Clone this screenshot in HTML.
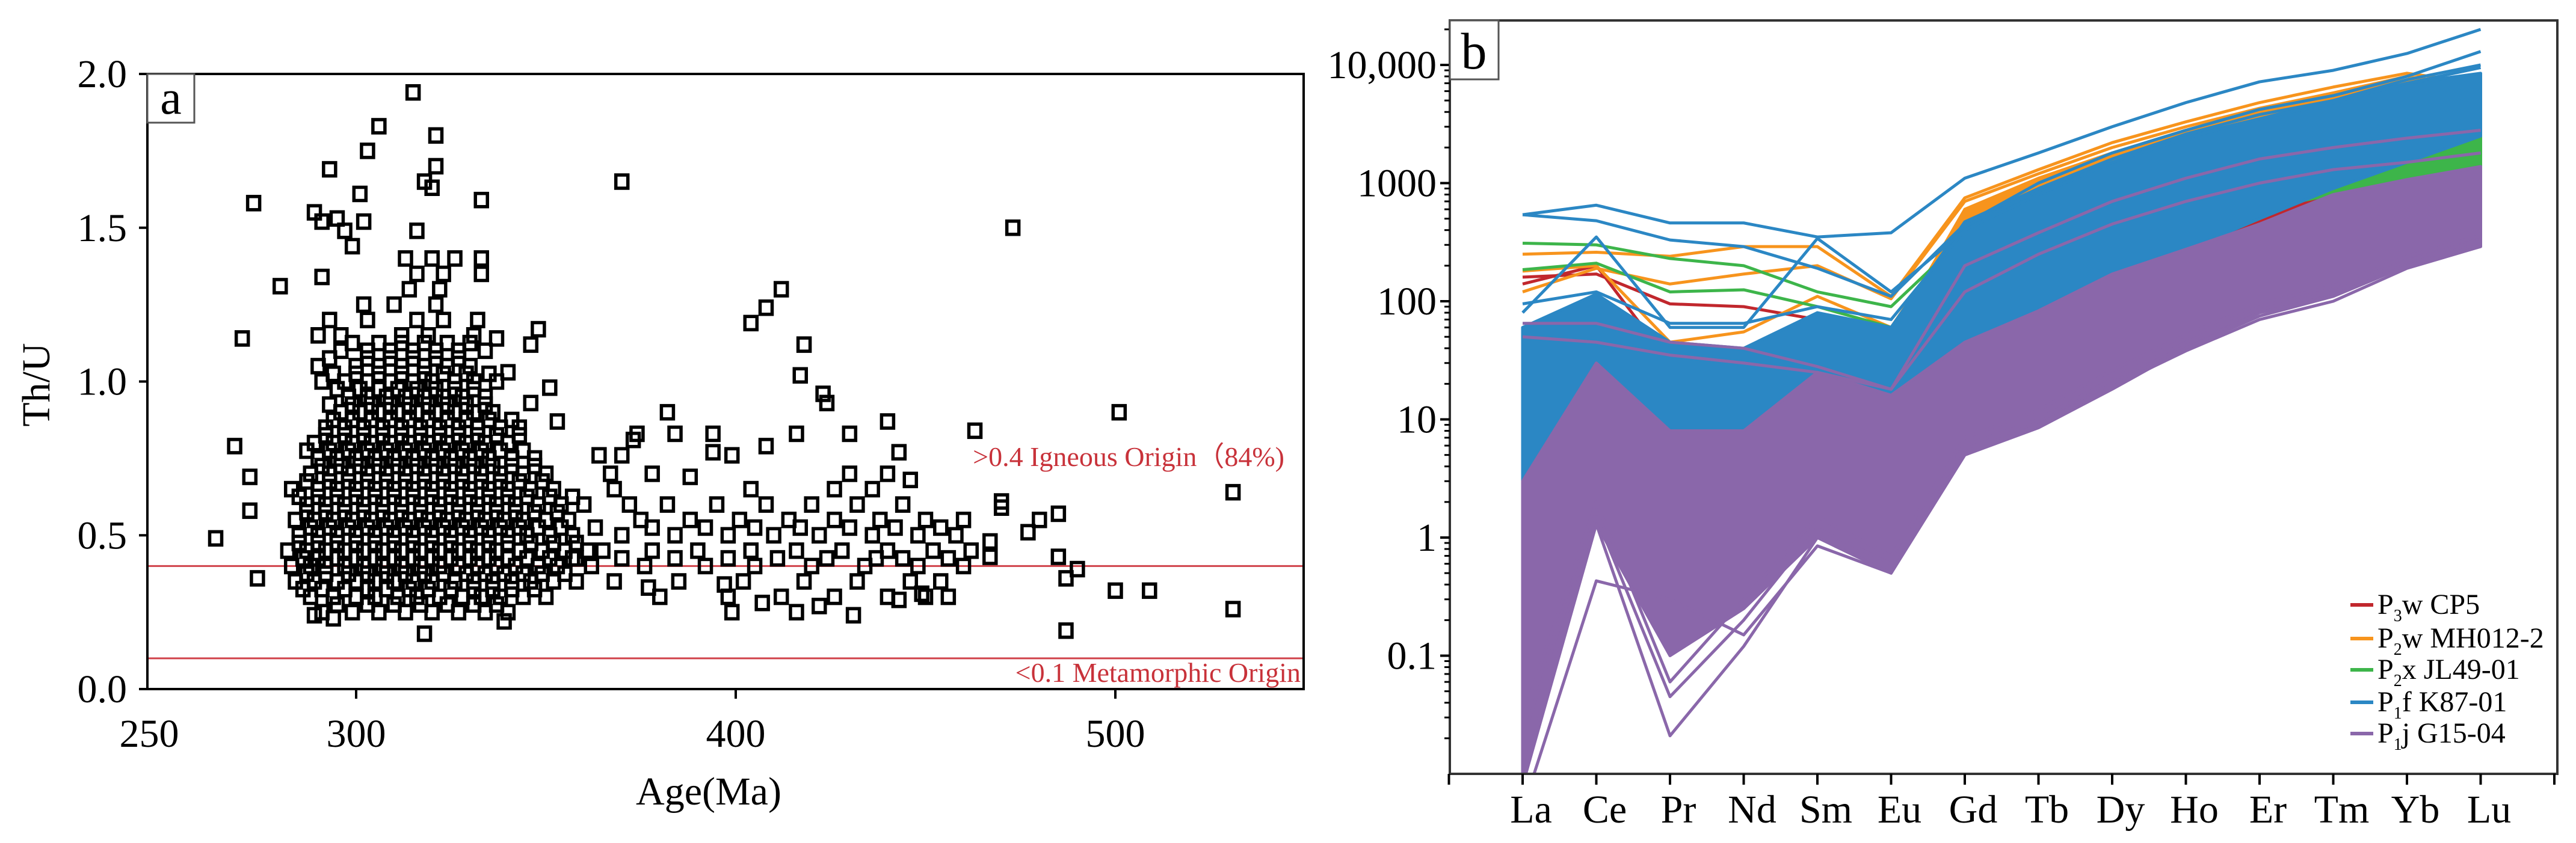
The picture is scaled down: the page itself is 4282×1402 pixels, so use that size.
<!DOCTYPE html>
<html><head><meta charset="utf-8">
<style>
html,body{margin:0;padding:0;background:#fff;}
svg{display:block;font-family:"Liberation Serif",serif;}
</style></head>
<body>
<svg id="fig" width="4282" height="1402" viewBox="0 0 4282 1402" xmlns="http://www.w3.org/2000/svg">
<g id="pa"></g>
<g id="pb"></g>
</svg>
<script>
// ---------- Panel A data ----------
const outlierAges = [315,306,321,303,293,321,318,320,370,301,273,333,289,291,295,302,297,299,316,473,280,291,270,412,408,404,418,417,423,424,268,272,272,263,274,501,463,440,531,531,487,485,485,490,487,500,509,480,477,470,470,467,467,382,384,374,373,394,394,399,408,416,351,346,348,346,340,337,332,353,364,370,388,430,443,446,377,397,399,407,416,431,422,443,449,318,339,289,294];
const outlierRatios = [1.94,1.83,1.80,1.75,1.69,1.70,1.65,1.63,1.65,1.61,1.58,1.59,1.55,1.52,1.53,1.52,1.49,1.44,1.49,1.50,1.31,1.34,1.14,1.30,1.24,1.19,1.12,1.02,0.96,0.93,0.79,0.69,0.58,0.49,0.36,0.90,0.84,0.87,0.64,0.26,0.19,0.57,0.43,0.39,0.36,0.32,0.32,0.55,0.51,0.61,0.59,0.48,0.43,0.90,0.83,0.83,0.81,0.83,0.77,0.76,0.79,0.83,0.98,0.93,1.17,1.12,1.03,1.14,1.20,0.87,0.76,0.76,0.69,0.83,0.77,0.68,0.33,0.34,0.25,0.28,0.25,0.24,0.27,0.29,0.31,0.18,0.22,0.24,0.23];
const rowRatios = [0.25,0.30,0.35,0.40,0.45,0.50,0.55,0.60,0.65,0.70,0.75,0.80,0.85,0.90,0.95,1.00,1.05,1.10,1.15,1.20,1.25,1.30,1.35,1.40];
const rowAgesA = [
[291,299,306,313,320,327,334,340],
[288,294,300,305,311,316,322,328,333,338,344,350],
[284,289,295,300,305,310,315,320,326,331,336,341,346,352,358],
[283,288,292,297,302,307,312,317,322,327,332,337,342,348,353],
[282,287,292,297,302,307,312,317,322,327,332,337,343,349,355,361],
[285,290,295,300,305,310,315,320,325,330,335,340,345,351,357],
[284,289,294,299,304,309,314,319,324,329,334,339,344,350,356],
[287,292,297,302,307,312,317,322,327,332,337,342,348,354,360],
[283,290,295,300,305,310,315,320,325,330,335,340,346,352],
[288,293,298,303,308,313,318,323,328,333,338,344,350],
[290,295,300,305,310,315,320,325,330,335,341,347],
[289,294,299,304,309,314,319,324,329,334,340],
[292,297,302,307,312,317,322,327,332,338,343],
[296,301,306,311,316,321,326,331,336],
[298,303,308,313,318,323,328,334],
[291,297,303,309,315,320,326,331,337],
[290,300,306,312,318,324,330],
[296,303,309,315,321,327,334],
[290,296,312,319,331],
[293,303,316,323],
[302,310,321],
[314,322],
[316,323,333],
[313,320,326,333]];
const rowRatiosA2 = [0.275,0.325,0.375,0.425,0.475,0.525,0.575,0.625,0.675,0.725,0.775,0.825,0.875,0.925,0.975,1.025,1.075,1.125];
const rowAgesA2 = [
[295,303,310,317,324,331,337],
[286,291,297,303,308,314,319,325,331,336,341,347],
[287,292,298,303,308,313,318,323,329,334,339,344,349,355],
[286,290,295,300,305,310,315,320,325,330,335,340,345,351,357],
[285,290,295,300,305,310,315,320,325,330,335,340,346,352,358],
[288,293,298,303,308,313,318,323,328,333,338,343,348,354],
[287,292,297,302,307,312,317,322,327,332,337,342,347,353],
[285,290,295,300,305,310,315,320,325,330,335,340,345,351,357],
[287,293,298,303,308,313,318,323,328,333,338,343,349],
[291,296,301,306,311,316,321,326,331,336,341,347],
[287,293,298,303,308,313,318,323,328,333,338,344],
[292,297,302,307,312,317,322,327,332,337,343],
[294,299,304,309,314,319,324,329,335,341],
[293,299,304,309,314,319,324,329,334],
[295,301,306,311,316,321,326,331],
[294,300,306,312,318,323,329,335],
[293,303,309,315,321,327],
[299,306,312,318,324,330]];
const rowRatiosB = [0.30,0.35,0.40,0.45,0.50,0.55,0.60,0.65,0.70,0.425,0.525];
const rowAgesB = [
[380,398,412,426,440,450,456],
[368,385,402,418,432,446,454],
[362,376,392,405,420,434,448,460],
[365,378,390,404,416,428,440,452,462],
[370,384,398,410,422,436,448,458],
[375,388,401,414,426,438,450,460],
[372,382,395,408,420,432,444],
[368,404,426,436],
[367,378,430,440],
[358,370,384,398,411,424,437,444,456],
[363,378,392,405,417,430,442,454]];
const xTicksA = [300,400,500];
const yTicksA = [0.0,0.5,1.0,1.5,2.0];
const refLines = [0.4,0.1];

// ---------- Panel B data ----------
const elements = ["La","Ce","Pr","Nd","Sm","Eu","Gd","Tb","Dy","Ho","Er","Tm","Yb","Lu"];
const yTicksB = [0.1,1,10,100,1000,10000];
const yTickLabelsB = ["0.1","1","10","100","1000","10,000"];
const groupNames = ["P3w CP5","P2w MH012-2","P2x JL49-01","P1f K87-01","P1j G15-04"];
const groupColors = ["#c1272d","#f7941d","#3db54a","#2b87c4","#8a67aa"];
const redLo = [0.1,2,0.14,0.4,2,1,40,80,150,250,400,550,700,800];
const redHi = [30,80,20,25,40,30,300,500,900,1400,2000,2600,3500,4000];
const orangeLo = [0.1,20,0.6,1,5,1,100,200,400,700,1000,1500,2000,2000];
const orangeHi = [40,100,30,35,60,50,600,1100,1800,2800,4000,5500,7500,7000];
const greenLo = [0.5,10,1,2,5,5,40,100,200,350,600,800,1100,1300];
const greenHi = [40,80,30,30,60,40,300,600,1000,1500,2500,3000,4500,3500];
const blueLo = [0.3,5,2.7,3,5,10,40,80,160,270,500,900,1500,2500];
const blueHi = [60,115,45,40,80,60,470,900,1500,2500,3500,5000,7000,8500];
const purpleLo = [0.008,1.3,0.1,0.25,1.0,0.5,5.3,9,20,40,80,110,200,290];
const purpleHi = [3,30,8,8,25,16,45,83,170,275,450,800,1070,1380];
const redLine1 = [160,170,95,90,70,45,380,650,1100,1800,2500,3300,4200,4500];
const redLine2 = [140,200,30,35,60,30,300,600,1000,1500,2200,3000,4000,3800];
const orangeLine1 = [250,260,240,290,290,110,750,1300,2200,3300,4800,6500,8500,7000];
const orangeLine2 = [120,190,140,170,200,105,700,1200,2000,3000,4300,5800,8000,6500];
const orangeLine3 = [180,200,45,55,110,60,500,1000,1700,2600,3600,5000,7000,6000];
const greenLine1 = [310,300,230,200,120,90,350,800,1500,2300,3300,4500,6000,5500];
const greenLine2 = [185,210,120,125,90,60,300,700,1300,2000,3000,4000,5500,3000];
const blueLine1 = [540,650,460,460,350,380,1100,1800,3000,4800,7200,9000,12500,20000];
const blueLine2 = [540,480,330,290,190,110,450,1000,1800,2800,4200,5500,8000,13000];
const blueLine3 = [80,350,60,60,340,120,400,900,1600,2600,3800,5000,7500,10000];
const blueLine4 = [95,120,65,65,90,70,400,800,1500,2400,3500,4800,7000,9500];
const purpleLine1 = [65,65,45,40,28,18,200,380,700,1100,1600,2000,2400,2800];
const purpleLine2 = [50,45,35,30,25,18,120,250,450,700,1000,1300,1500,1800];
const purpleLine3 = [0.005,0.43,0.3,0.15,0.85,0.5,5,8.5,18,40,75,110,200,300];
const purpleLine4 = [0.01,1.3,0.021,0.12,1.0,0.5,5,9,19,38,70,100,190,290];
const purpleLine5 = [0.02,1.5,0.045,0.2,1.2,0.6,6,10,22,45,85,120,220,330];
const purpleLine6 = [0.03,2.0,0.06,0.3,1.5,0.7,7,12,26,52,95,135,240,360];

const NS="http://www.w3.org/2000/svg";
function mk(tag, parent, attrs){const e=document.createElementNS(NS,tag);for(const k in attrs)e.setAttribute(k,attrs[k]);parent.appendChild(e);return e;}

// ===== Panel A =====
const pa=document.getElementById('pa');
const AX0=245,AX1=2167,AY0=123,AY1=1146;
const xA=a=>592+(a-300)*6.31;
const yA=v=>AY1-v*511.5;
let t;
for(const r of refLines){
  t=mk('line',pa,{x1:AX0,x2:AX1,y1:yA(r),y2:yA(r),stroke:'#d0424a','stroke-width':3});
  
  
}
const ptsG=mk('g',pa,{fill:'none',stroke:'#000','stroke-width':5.5});


function sq(a,v){
  const e=mk('rect',ptsG,{x:xA(a)-10,y:yA(v)-11,width:20,height:22});
  
  
}
rowAgesA.forEach((row,i)=>row.forEach(a=>sq(a,rowRatios[i])));
rowAgesA2.forEach((row,i)=>row.forEach(a=>sq(a,rowRatiosA2[i])));
rowAgesB.forEach((row,i)=>row.forEach(a=>sq(a,rowRatiosB[i])));
outlierAges.forEach((a,i)=>sq(a,outlierRatios[i]));
t=mk('rect',pa,{x:AX0,y:AY0,width:AX1-AX0,height:AY1-AY0,fill:'none',stroke:'#000','stroke-width':4});


for(const v of yTicksA){
  t=mk('line',pa,{x1:AX0-14,x2:AX0,y1:yA(v),y2:yA(v),stroke:'#000','stroke-width':4});
  
  
  t=mk('text',pa,{x:AX0-34,y:yA(v)+22,'text-anchor':'end','font-size':66});
  t.textContent=v.toFixed(1);
  
  
}
t=mk('text',pa,{x:248,y:1242,'text-anchor':'middle','font-size':66});t.textContent='250';


for(const v of xTicksA){
  t=mk('line',pa,{x1:xA(v),x2:xA(v),y1:AY1,y2:AY1+16,stroke:'#000','stroke-width':4});
  
  
  t=mk('text',pa,{x:xA(v),y:1242,'text-anchor':'middle','font-size':66});
  t.textContent=v;
  
  
}
t=mk('text',pa,{x:1178,y:1338,'text-anchor':'middle','font-size':66});t.textContent='Age(Ma)';


t=mk('text',pa,{x:0,y:0,'text-anchor':'middle','font-size':66,transform:'translate(82,640) rotate(-90)'});t.textContent='Th/U';


t=mk('text',pa,{x:2135,y:775,'text-anchor':'end','font-size':46,fill:'#c8323a'});t.textContent='>0.4 Igneous Origin（84%)';


t=mk('text',pa,{x:2162,y:1134,'text-anchor':'end','font-size':46,fill:'#c8323a'});t.textContent='<0.1 Metamorphic Origin';


t=mk('rect',pa,{x:AX0,y:AY0,width:78,height:81,fill:'#fff',stroke:'#555','stroke-width':3});


t=mk('text',pa,{x:AX0+39,y:AY0+66,'text-anchor':'middle','font-size':80});t.textContent='a';



// ===== Panel B =====
const pb=document.getElementById('pb');
const BX0=2410,BX1=4251,BY0=34,BY1=1287;
const xB=i=>2531+i*122.5;
const yB=v=>894-196.5*Math.log10(v);
const clipId='clipB';
const defs=mk('defs',pb,{});const cp=mk('clipPath',defs,{id:clipId});mk('rect',cp,{x:BX0,y:BY0,width:BX1-BX0,height:BY1-BY0});
const dataG=mk('g',pb,{'clip-path':'url(#'+clipId+')'});


function band(lo,hi,color,name){
  let d='M'+lo.map((v,i)=>xB(i)+','+yB(v)).join(' L');
  for(let i=hi.length-1;i>=0;i--)d+=' L'+xB(i)+','+yB(hi[i]);
  const e=mk('path',dataG,{d:d+'Z',fill:color,stroke:color,'stroke-width':5,'stroke-linejoin':'round'});
  
  
}
function line(vals,color,name){
  const e=mk('polyline',dataG,{points:vals.map((v,i)=>xB(i)+','+yB(v)).join(' '),fill:'none',stroke:color,'stroke-width':5,'stroke-linejoin':'round'});
  
  
}
band(redLo,redHi,groupColors[0],'p3w-cp5-band');
line(redLine1,groupColors[0],'p3w-cp5-line');line(redLine2,groupColors[0],'p3w-cp5-line');
band(orangeLo,orangeHi,groupColors[1],'p2w-mh012-2-band');
line(orangeLine1,groupColors[1],'p2w-mh012-2-line');line(orangeLine2,groupColors[1],'p2w-mh012-2-line');line(orangeLine3,groupColors[1],'p2w-mh012-2-line');
band(greenLo,greenHi,groupColors[2],'p2x-jl49-01-band');
line(greenLine1,groupColors[2],'p2x-jl49-01-line');line(greenLine2,groupColors[2],'p2x-jl49-01-line');
band(blueLo,blueHi,groupColors[3],'p1f-k87-01-band');
line(blueLine1,groupColors[3],'p1f-k87-01-line');line(blueLine2,groupColors[3],'p1f-k87-01-line');line(blueLine3,groupColors[3],'p1f-k87-01-line');line(blueLine4,groupColors[3],'p1f-k87-01-line');
band(purpleLo,purpleHi,groupColors[4],'p1j-g15-04-band');
[purpleLine1,purpleLine2,purpleLine3,purpleLine4,purpleLine5,purpleLine6].forEach(l=>line(l,groupColors[4],'p1j-g15-04-line'));

t=mk('rect',pb,{x:BX0,y:BY0,width:BX1-BX0,height:BY1-BY0,fill:'none',stroke:'#333','stroke-width':4});


yTicksB.forEach((v,k)=>{
  t=mk('line',pb,{x1:BX0-16,x2:BX0,y1:yB(v),y2:yB(v),stroke:'#000','stroke-width':4});
  
  
  for(let m=2;m<10;m++){
    const yy=yB(v*m);
    if(yy<BY0)break;
    const e=mk('line',pb,{x1:BX0-9,x2:BX0,y1:yy,y2:yy,stroke:'#000','stroke-width':3});
    
    
  }
  t=mk('text',pb,{x:2388,y:yB(v)+22,'text-anchor':'end','font-size':66});
  t.textContent=yTickLabelsB[k];
  
  
});
for(let m=2;m<10;m++){const e=mk('line',pb,{x1:BX0-9,x2:BX0,y1:yB(0.01*m),y2:yB(0.01*m),stroke:'#000','stroke-width':3});

}
for(let i=-1;i<=14;i++){
  t=mk('line',pb,{x1:xB(i),x2:xB(i),y1:BY1,y2:BY1+18,stroke:'#000','stroke-width':4});
  
  
}
elements.forEach((el,i)=>{
  t=mk('text',pb,{x:xB(i)+14,y:1368,'text-anchor':'middle','font-size':66});
  t.textContent=el;
  
  
});
const legSub=['3','2','2','1','1'];const legRest=['w CP5','w MH012-2','x JL49-01','f K87-01','j G15-04'];
const legY=[1006,1062,1114,1168,1220];
const legG=mk('g',pb,{});


groupNames.forEach((n,k)=>{
  const g=mk('g',legG,{});
  
  
  mk('line',g,{x1:3907,x2:3945,y1:legY[k],y2:legY[k],stroke:groupColors[k],'stroke-width':6});
  const tx=mk('text',g,{x:3952,y:legY[k]+15,'font-size':48});
  tx.textContent='P';
  const s=mk('tspan',tx,{'font-size':28,dy:12});s.textContent=legSub[k];
  const r=mk('tspan',tx,{dy:-12});r.textContent=legRest[k];
});
t=mk('rect',pb,{x:BX0,y:BY0,width:81,height:98,fill:'#fff',stroke:'#555','stroke-width':3});


t=mk('text',pb,{x:BX0+40,y:BY0+80,'text-anchor':'middle','font-size':86});t.textContent='b';


</script>
</body></html>
